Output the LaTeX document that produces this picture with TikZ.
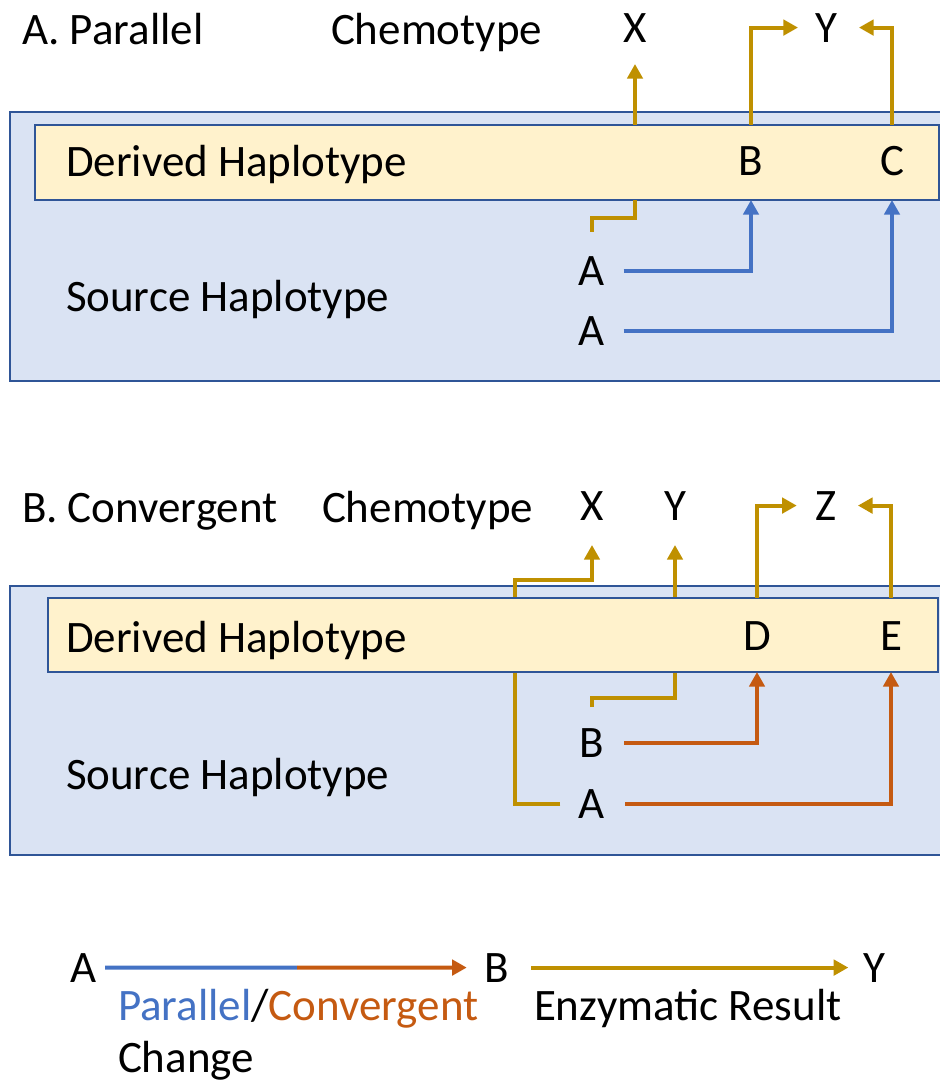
\documentclass[tikz,border=0pt]{standalone}
\usepackage{fontspec}
\setmainfont{Carlito}
\usetikzlibrary{arrows.meta,calc}
\pgfdeclarelayer{bg}\pgfdeclarelayer{mid}\pgfsetlayers{bg,mid,main}
\definecolor{pblue}{HTML}{4472C4}
\definecolor{corange}{HTML}{C55A11}
\definecolor{egold}{HTML}{BF9000}
\definecolor{boxblue}{HTML}{DAE3F3}
\definecolor{boxedge}{HTML}{2F5597}
\definecolor{hapyellow}{HTML}{FFF2CC}
\tikzset{
  lbl/.style={inner sep=0pt,outer sep=0pt,font=\fontsize{33.75}{40}\selectfont},
  conn/.style={line width=3pt},
  tipped/.style={-{Triangle[length=11pt,width=11.5pt]}},
  hapbox/.style={draw=boxedge,line width=1.1pt,fill=hapyellow,inner sep=0pt,outer sep=0pt},
  outeredge/.style={draw=boxedge,line width=1.1pt}
}
\begin{document}
\begin{tikzpicture}[x=0.75pt,y=-0.75pt]
\useasboundingbox (0,0) rectangle (940,1083);

% outer source boxes
\begin{pgfonlayer}{bg}
\fill[boxblue] (10,112) rectangle (940,381);
\draw[outeredge] (940,112) -- (10,112) -- (10,381) -- (940,381);
\fill[boxblue] (10,586) rectangle (940,855);
\draw[outeredge] (940,586) -- (10,586) -- (10,855) -- (940,855);
\end{pgfonlayer}

% ---------- Panel A ----------
\node[lbl,anchor=base west] (titleA) at (22,44) {A. Parallel};
\node[lbl,anchor=base west] (chemA) at (331,44) {Chemotype};
\node[lbl,anchor=base] (XA) at (635,42) {X};
\node[lbl,anchor=base] (YA) at (826,42) {Y};
\node[hapbox,minimum width=678pt,minimum height=56.25pt] (derA) at (487,162.5) {};
\node[lbl,anchor=base west] (derlabA) at (66,176) {Derived Haplotype};
\node[lbl,anchor=base] (BA) at (751,175) {B};
\node[lbl,anchor=base] (CA) at (892,175) {C};
\node[lbl,anchor=base west] (srcA) at (66,311) {Source Haplotype};
\node[lbl,anchor=base] (A1) at (592,285) {A};
\node[lbl,anchor=base] (A2) at (592,345) {A};

\draw[conn,egold,tipped] (XA |- derA.north) -- ([yshift=-16.5pt]XA.south);
\draw[conn,egold] (XA |- derA.south) -- ++(0,18) -| ([yshift=18pt]A1.north);
\draw[conn,pblue,tipped] ([xshift=14pt]A1.east) -| (BA |- derA.south);
\draw[conn,pblue,tipped] ([xshift=14pt]A2.east) -| (CA |- derA.south);
\draw[conn,egold,tipped] (BA |- derA.north) |- ([xshift=-12.75pt]YA.west);
\draw[conn,egold,tipped] (CA |- derA.north) |- ([xshift=16.5pt]YA.east);

% ---------- Panel B ----------
\node[lbl,anchor=base west] (titleB) at (22,522) {B. Convergent};
\node[lbl,anchor=base west] (chemB) at (322,522) {Chemotype};
\node[lbl,anchor=base] (XB) at (592,520) {X};
\node[lbl,anchor=base] (YB) at (675,520) {Y};
\node[lbl,anchor=base] (ZB) at (826,520) {Z};
\node[hapbox,minimum width=667.5pt,minimum height=55.5pt] (derB) at (493,635) {};
\node[lbl,anchor=base west] (derlabB) at (66,652) {Derived Haplotype};
\node[lbl,anchor=base] (DB) at (757,650) {D};
\node[lbl,anchor=base] (EB) at (891,650) {E};
\node[lbl,anchor=base west] (srcB) at (66,789) {Source Haplotype};
\node[lbl,anchor=base] (BB) at (592,757) {B};
\node[lbl,anchor=base] (AB) at (592,818) {A};
\coordinate (turnX) at (515,580);

\begin{pgfonlayer}{mid}
\draw[conn,egold,tipped] ([xshift=-14pt]AB.west) -| (turnX) -| ([yshift=-18.75pt]XB.south);
\draw[conn,egold,tipped] ([yshift=15.75pt]BB.north) -- ++(0,-9) -| ([yshift=-18.75pt]YB.south);
\end{pgfonlayer}

\draw[conn,corange,tipped] ([xshift=15pt]BB.east) -| (DB |- derB.south);
\draw[conn,corange,tipped] ([xshift=15pt]AB.east) -| (EB |- derB.south);
\draw[conn,egold,tipped] (DB |- derB.north) |- ([xshift=-14pt]ZB.west);
\draw[conn,egold,tipped] (EB |- derB.north) |- ([xshift=16pt]ZB.east);

% ---------- Legend ----------
\node[lbl,anchor=base] (LA) at (84,982) {A};
\node[lbl,anchor=base] (LB) at (497,982) {B};
\node[lbl,anchor=base] (LY) at (874,982) {Y};
\coordinate (legmid) at (297,967.5);
\draw[conn,pblue] ([xshift=6pt]LA.east) -- (legmid);
\draw[conn,corange,tipped] (legmid) -- ([xshift=-13.5pt]LB.west);
\draw[conn,egold,tipped] ([xshift=16.5pt]LB.east) -- ([xshift=-11pt]LY.west);
\node[lbl,anchor=base west] (legpc) at (118,1020) {\textcolor{pblue}{Parallel}/\textcolor{corange}{Convergent}};
\node[lbl,anchor=base west] (legch) at (118,1072) {Change};
\node[lbl,anchor=base west] (leger) at (534,1020) {Enzymatic Result};
\end{tikzpicture}
\end{document}
